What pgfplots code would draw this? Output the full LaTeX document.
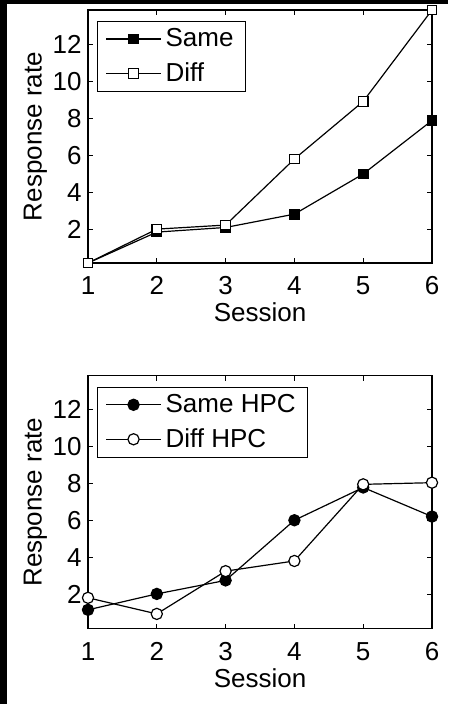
\documentclass[border=0pt]{standalone}
\usepackage{fontspec}
\setmainfont{Liberation Sans}
\usepackage{pgfplots}
\pgfplotsset{compat=1.18}

% 1 px of the reference = 0.5pt
\pgfplotsset{
  panel/.style={
    scale only axis, width=172pt, height=126.5pt,
    xmin=1, xmax=6, ymin=0.17, ymax=13.84,
    xtick={1,...,6}, ytick={2,4,...,12},
    tick align=inside, major tick length=2.5pt,
    axis line style={line width=0.6pt},
    tick style={black, line width=0.5pt},
    clip=false,
    /pgf/number format/assume math mode=true,
    tick label style={font=\fontsize{13}{15}\selectfont},
    label style={font=\fontsize{13}{15}\selectfont},
    xticklabel style={anchor=base, yshift=-16pt},
    yticklabel style={anchor=east, inner sep=0pt, xshift=-3pt},
    xlabel={Session}, ylabel={Response rate},
    xlabel style={at={(axis description cs:0.5,-0.232)}, anchor=base},
    ylabel style={at={(axis description cs:-0.1346,0.5)}, anchor=base},
    legend cell align=left,
    legend image code/.code={\draw[mark repeat=2,mark phase=2,##1]
      plot coordinates {(0pt,0pt) (13.75pt,0pt) (27.5pt,0pt)};},
    legend style={draw=black, line width=0.5pt,
      font=\fontsize{13}{15}\selectfont,
      at={(axis description cs:0.026,0.9565)}, anchor=north west,
      inner xsep=4pt, inner ysep=1.5pt, row sep=2.5pt},
    every axis plot/.append style={line width=0.6pt, black},
  },
}

\begin{document}
\begin{tikzpicture}
\fill[white] (0,0) rectangle (224pt,-352pt);
\fill[black] (0,0) rectangle (3.5pt,-352pt);
\fill[black] (0,0) rectangle (224pt,-2pt);
\path[use as bounding box] (0,0) rectangle (224pt,-352pt);

\begin{axis}[panel, at={(44pt,-131.5pt)}, anchor=south west]
\addplot[mark=square*, mark size=2.4pt, mark options={fill=black, solid}]
  coordinates {(1,0.17) (2,1.84) (3,2.09) (4,2.81) (5,4.98) (6,7.87)};
\addlegendentry{Same}
\addplot[mark=square*, mark size=2.4pt, mark options={fill=white, solid}]
  coordinates {(1,0.17) (2,2.00) (3,2.22) (4,5.79) (5,8.90) (6,13.84)};
\addlegendentry{Diff}
\end{axis}

\begin{axis}[panel, at={(44pt,-314.35pt)}, anchor=south west]
\addplot[mark=*, mark size=2.8pt, mark options={fill=black, solid}]
  coordinates {(1,1.19) (2,2.05) (3,2.78) (4,6.03) (5,7.80) (6,6.23)};
\addlegendentry{Same HPC}
\addplot[mark=*, mark size=2.8pt, mark options={fill=white, solid}]
  coordinates {(1,1.84) (2,0.97) (3,3.28) (4,3.83) (5,7.97) (6,8.06)};
\addlegendentry{Diff HPC}
\end{axis}
\end{tikzpicture}
\end{document}
